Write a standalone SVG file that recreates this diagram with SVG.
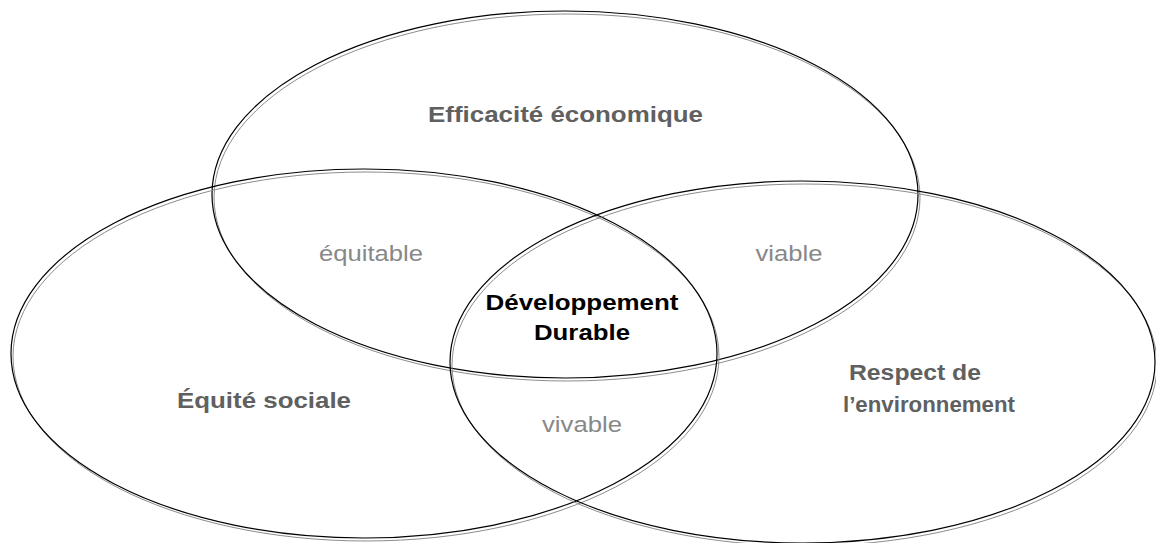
<svg xmlns="http://www.w3.org/2000/svg" width="1156" height="543" viewBox="0 0 1156 543">
<style>
.blk{fill:none;stroke:#000;stroke-width:1.2}
.gry{fill:none;stroke:#8c8c8c;stroke-width:1}
.t{font-family:"Liberation Sans",Arial,sans-serif;font-size:22.5px;text-anchor:middle}
.main{font-weight:bold;fill:#606060}
.sub{fill:#888888}
.core{font-weight:bold;fill:#000}
</style>
<rect width="1156" height="543" fill="#fff"/>
<g id="connectors"></g>
<g id="economique">
<ellipse class="gry" cx="567" cy="197.5" rx="353" ry="183.5"/>
<ellipse class="blk" cx="565" cy="194.5" rx="353" ry="183.5"/>
<text class="t main" x="565.5" y="122" textLength="275" lengthAdjust="spacingAndGlyphs">Efficacité économique</text>
</g>
<g id="social">
<ellipse class="gry" cx="366" cy="356.5" rx="353" ry="184.5"/>
<ellipse class="blk" cx="364" cy="353.5" rx="353" ry="184.5"/>
<text class="t main" x="264" y="408" textLength="174" lengthAdjust="spacingAndGlyphs">Équité sociale</text>
</g>
<g id="environnement">
<ellipse class="gry" cx="804.5" cy="365" rx="352.5" ry="181"/>
<ellipse class="blk" cx="802.5" cy="362" rx="352.5" ry="181"/>
<text class="t main" x="915" y="380" textLength="132" lengthAdjust="spacingAndGlyphs">Respect de</text>
<text class="t main" x="929" y="412" textLength="172" lengthAdjust="spacingAndGlyphs">l’environnement</text>
</g>
<g id="equitable"><text class="t sub" x="371" y="261" textLength="104" lengthAdjust="spacingAndGlyphs">équitable</text></g>
<g id="viable"><text class="t sub" x="789" y="261" textLength="67" lengthAdjust="spacingAndGlyphs">viable</text></g>
<g id="vivable"><text class="t sub" x="582" y="432" textLength="80" lengthAdjust="spacingAndGlyphs">vivable</text></g>
<g id="durable">
<text class="t core" x="582" y="310" textLength="193" lengthAdjust="spacingAndGlyphs">Développement</text>
<text class="t core" x="582" y="340" textLength="96" lengthAdjust="spacingAndGlyphs">Durable</text>
</g>
</svg>
